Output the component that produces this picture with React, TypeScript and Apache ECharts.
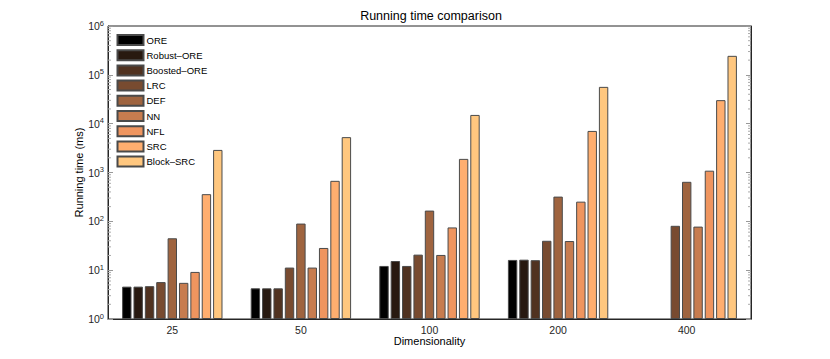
import React, { useEffect, useRef } from "react";
import * as echarts from "echarts";

const categories = ["25", "50", "100", "200", "400"];
const seriesNames = ["ORE", "Robust\u2013ORE", "Boosted\u2013ORE", "LRC", "DEF", "NN", "NFL", "SRC", "Block\u2013SRC"];
const ORE = [4.6, 4.25, 12.2, 16.2, null];
const RobustORE = [4.6, 4.25, 15.4, 16.4, null];
const BoostedORE = [4.7, 4.25, 12.2, 16.0, null];
const LRC = [5.7, 11.3, 20.8, 40, 81];
const DEF = [45, 90, 166, 321, 645];
const NN = [5.5, 11.3, 20.5, 39.5, 78];
const NFL = [9.2, 28.5, 75, 253, 1090];
const SRC = [360, 675, 1900, 7100, 30300];
const BlockSRC = [2900, 5300, 15100, 56700, 245000];
const seriesValues = [ORE, RobustORE, BoostedORE, LRC, DEF, NN, NFL, SRC, BlockSRC];
const colors = ["#000000", "#281910", "#503220", "#784B30", "#9F643F", "#C77C4F", "#EF955F", "#FFAE6F", "#FFC77F"];
const yMin = 1;
const yMax = 1e6;
const minorTickValues: number[] = [];
for (let d = 0; d < 6; d++) {
  for (let m = 2; m <= 9; m++) minorTickValues.push(m * Math.pow(10, d));
}

const FONT = "Liberation Sans, Arial, Helvetica, sans-serif";
const AX = "#262626";

export default function App() {
  const ref = useRef<HTMLDivElement>(null);
  useEffect(() => {
    if (!ref.current) return;
    const chart = echarts.init(ref.current, undefined, { renderer: "svg" });
    const labelRich = {
      b: { fontSize: 10.5, lineHeight: 14, fontFamily: FONT, color: AX },
      s: { fontSize: 7.5, lineHeight: 9, verticalAlign: "top", fontFamily: FONT, color: AX },
    };
    const barSeries = seriesNames.map((name, i) => ({
      name,
      type: "bar",
      data: seriesValues[i].map((v) => (v == null ? "-" : v)),
      barWidth: 9.4,
      barGap: "21%",
      itemStyle: { color: colors[i], borderColor: "#4a4a4a", borderWidth: 1 },
      emphasis: { disabled: true },
      xAxisIndex: 0,
      yAxisIndex: 0,
    }));
    const option: any = {
      animation: false,
      textStyle: { fontFamily: FONT },
      graphic: [
        {
          type: "text",
          x: 431,
          y: 15.5,
          style: {
            text: "Running time comparison",
            fontSize: 12.5,
            fontFamily: FONT,
            fill: "#000",
            textAlign: "center",
            textVerticalAlign: "middle",
          },
        },
      ],
      grid: {
        left: 108,
        top: 26,
        width: 643,
        height: 293,
        show: true,
        borderColor: AX,
        borderWidth: 1,
        backgroundColor: "#fff",
      },
      legend: {
        data: seriesNames,
        orient: "vertical",
        left: 116.5,
        top: 34,
        padding: 0,
        itemWidth: 26,
        itemHeight: 10,
        itemGap: 3.2,
        icon: "rect",
        selectedMode: false,
        textStyle: { fontSize: 9.5, fontFamily: FONT, color: "#000", lineHeight: 10, padding: [0, 0, 0, -2] },
      },
      xAxis: [
        {
          type: "category",
          data: categories,
          axisLine: { show: true, lineStyle: { color: AX, width: 1 } },
          axisTick: { show: false },
          axisLabel: { fontSize: 10.5, color: AX, margin: 5, fontFamily: FONT },
          name: "Dimensionality",
          nameLocation: "middle",
          nameGap: 16,
          nameMoveOverlap: false,
          nameTextStyle: { fontSize: 11, color: "#000", fontFamily: FONT },
        },
      ],
      yAxis: [
        {
          type: "log",
          min: yMin,
          max: yMax,
          logBase: 10,
          splitLine: { show: false },
          axisLine: { show: true, lineStyle: { color: AX, width: 1 } },
          axisTick: { show: true, inside: true, length: 5, lineStyle: { color: "#999" } },
          axisLabel: {
            margin: 4,
            formatter: (v: number) => `{b|10}{s|${Math.round(Math.log10(v))}}`,
            rich: labelRich,
          },
          name: "Running time (ms)",
          nameLocation: "middle",
          nameGap: 24,
          nameMoveOverlap: false,
          nameTextStyle: { fontSize: 11, color: "#000", fontFamily: FONT },
        },
        {
          type: "log",
          min: yMin,
          max: yMax,
          logBase: 10,
          position: "right",
          splitLine: { show: false },
          axisLine: { show: true, lineStyle: { color: AX, width: 1 } },
          axisTick: { show: true, inside: true, length: 5, lineStyle: { color: "#999" } },
          axisLabel: { show: false },
        },
      ],
      series: [
        ...barSeries,
        {
          type: "custom",
          name: "minorTicks",
          silent: true,
          xAxisIndex: 0,
          yAxisIndex: 0,
          z: 5,
          data: minorTickValues.map((v) => [0, v]),
          encode: { x: 0, y: 1 },
          renderItem: (params: any, api: any) => {
            const cs = params.coordSys;
            const y = api.coord([0, api.value(1)])[1];
            const style = { stroke: "#aaa", lineWidth: 1 };
            return {
              type: "group",
              children: [
                { type: "line", shape: { x1: cs.x, y1: y, x2: cs.x + 3, y2: y }, style },
                { type: "line", shape: { x1: cs.x + cs.width - 3, y1: y, x2: cs.x + cs.width, y2: y }, style },
              ],
            };
          },
        },
      ],
    };
    chart.setOption(option);
    return () => chart.dispose();
  }, []);
  return (
    <div
      ref={ref}
      style={{ position: "fixed", left: 0, top: 0, width: 830, height: 359, background: "#fff" }}
    />
  );
}
